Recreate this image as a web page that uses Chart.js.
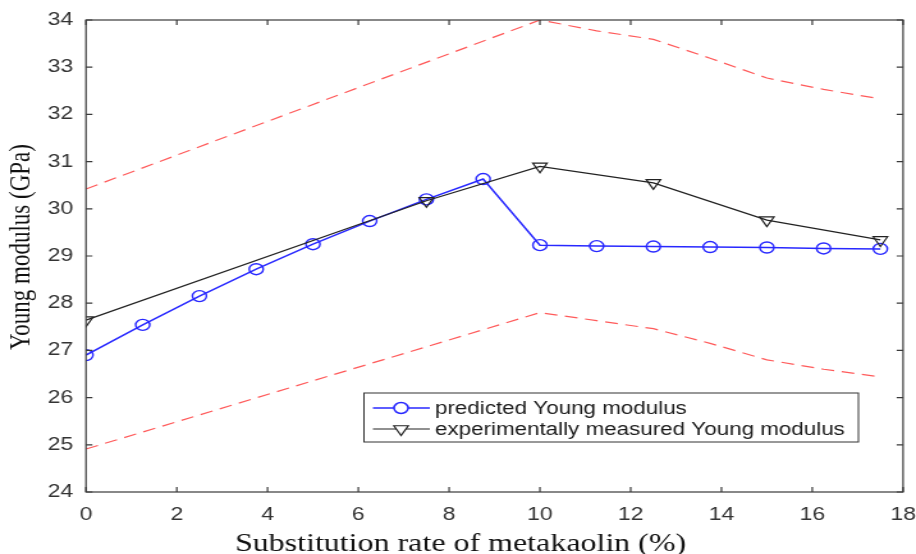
<!DOCTYPE html>
<html lang="en">
<head>
<meta charset="UTF-8">
<title>Young modulus vs metakaolin</title>
<style>
    body {
        margin: 0;
        background: #fff;
        overflow: hidden;
    }

    /* the source figure is stretched sideways, so draw narrow and widen */
    .stretch {
        width: 716px;
        height: 554px;
        transform: scaleX(1.2793);
        transform-origin: 0 0;
    }
</style>
</head>
<body>
<div class="stretch"><canvas id="myCanvas" width="716" height="554"></canvas></div>
<script src="https://cdn.jsdelivr.net/npm/chart.js@4.4.0/dist/chart.umd.min.js"></script>
<script>
// substitution rate (%) and Young modulus (GPa)
const predX = [0, 1.25, 2.5, 3.75, 5, 6.25, 7.5, 8.75, 10, 11.25, 12.5, 13.75, 15, 16.25, 17.5];
const predY = [26.9, 27.54, 28.15, 28.72, 29.25, 29.74, 30.2, 30.63, 29.23, 29.21, 29.2, 29.19, 29.18, 29.16, 29.15];

const expX = [0, 7.5, 10, 12.5, 15, 17.5];
const expY = [27.64, 30.17, 30.9, 30.55, 29.76, 29.34];

const boundX = [0, 10, 11.25, 12.5, 13.75, 15, 16.25, 17.5];
const upperY = [30.42, 34.0, 33.77, 33.59, 33.19, 32.77, 32.53, 32.33];
const lowerY = [24.91, 27.8, 27.63, 27.46, 27.15, 26.8, 26.6, 26.44];

const xTicks = [0, 2, 4, 6, 8, 10, 12, 14, 16, 18];
const yTicks = [24, 25, 26, 27, 28, 29, 30, 31, 32, 33, 34];

const xTitle = 'Substitution rate of metakaolin (%)';
const yTitle = 'Young modulus (GPa)';
const predLabel = 'predicted Young modulus';
const expLabel = 'experimentally measured Young modulus';

const toPoints = (xs, ys) => xs.map((x, i) => ({ x: x, y: ys[i] }));

// frame, inward ticks, axis titles and the boxed legend
const matlabLook = {
    id: 'matlabLook',
    afterDraw(chart) {
        const ctx = chart.ctx;
        const area = chart.chartArea;
        const xs = chart.scales.x;
        const ys = chart.scales.y;

        ctx.save();
        ctx.strokeStyle = '#3a3a3a';
        ctx.lineWidth = 1.2;
        ctx.strokeRect(area.left, area.top, area.right - area.left, area.bottom - area.top);

        ctx.beginPath();
        xTicks.forEach(v => {
            const px = xs.getPixelForValue(v);
            ctx.moveTo(px, area.bottom);
            ctx.lineTo(px, area.bottom - 5);
            ctx.moveTo(px, area.top);
            ctx.lineTo(px, area.top + 5);
        });
        yTicks.forEach(v => {
            const py = ys.getPixelForValue(v);
            ctx.moveTo(area.left, py);
            ctx.lineTo(area.left + 5, py);
            ctx.moveTo(area.right, py);
            ctx.lineTo(area.right - 5, py);
        });
        ctx.stroke();

        // axis titles
        ctx.fillStyle = '#111';
        ctx.font = '25px "Liberation Serif"';
        ctx.textAlign = 'center';
        ctx.textBaseline = 'alphabetic';
        ctx.fillText(xTitle, 360, 551);

        ctx.save();
        ctx.translate(23, 247);
        ctx.rotate(-Math.PI / 2);
        ctx.font = '23px "Liberation Serif"';
        ctx.fillText(yTitle, 0, 0);
        ctx.restore();

        // legend
        const box = { left: 284.5, top: 393, right: 671, bottom: 442 };
        ctx.fillStyle = '#fff';
        ctx.fillRect(box.left, box.top, box.right - box.left, box.bottom - box.top);
        ctx.strokeStyle = '#333';
        ctx.lineWidth = 1;
        ctx.strokeRect(box.left, box.top, box.right - box.left, box.bottom - box.top);

        const rows = chart.data.datasets.filter(d => d.legendRow !== undefined)
            .sort((a, b) => a.legendRow - b.legendRow);
        rows.forEach((d, i) => {
            const y = 408 + i * 21;
            ctx.strokeStyle = d.borderColor;
            ctx.lineWidth = d.borderWidth;
            ctx.setLineDash([]);
            ctx.beginPath();
            ctx.moveTo(291.5, y);
            ctx.lineTo(336, y);
            ctx.stroke();
            ctx.fillStyle = '#fff';
            Chart.helpers.drawPoint(ctx, {
                pointStyle: d.pointStyle,
                radius: d.pointRadius,
                rotation: d.pointRotation || 0,
                borderWidth: d.pointBorderWidth
            }, 313.5, y);
            ctx.fillStyle = '#1a1a1a';
            ctx.font = '17.5px "Liberation Sans"';
            ctx.textAlign = 'left';
            ctx.textBaseline = 'middle';
            ctx.fillText(d.label, 340, y + 1);
        });
        ctx.restore();
    }
};

new Chart(document.getElementById('myCanvas'), {
    type: 'scatter',
    data: {
        datasets: [{
            label: expLabel,
            legendRow: 1,
            data: toPoints(expX, expY),
            showLine: true,
            borderColor: '#222',
            borderWidth: 1.2,
            pointStyle: 'triangle',
            pointRotation: 180,
            pointRadius: 6.5,
            pointBorderWidth: 1.2,
            pointBorderColor: '#222',
            pointBackgroundColor: 'rgba(0,0,0,0)',
            order: 0
        }, {
            label: predLabel,
            legendRow: 0,
            data: toPoints(predX, predY),
            showLine: true,
            borderColor: 'rgb(40,40,255)',
            borderWidth: 1.5,
            pointStyle: 'circle',
            pointRadius: 5.5,
            pointBorderWidth: 1.4,
            pointBorderColor: 'rgb(40,40,255)',
            pointBackgroundColor: 'rgba(0,0,0,0)',
            order: 1
        }, {
            label: 'upper bound',
            data: toPoints(boundX, upperY),
            showLine: true,
            borderColor: 'rgb(255,90,90)',
            borderWidth: 1.2,
            borderDash: [10, 6],
            pointRadius: 0,
            order: 2
        }, {
            label: 'lower bound',
            data: toPoints(boundX, lowerY),
            showLine: true,
            borderColor: 'rgb(255,90,90)',
            borderWidth: 1.2,
            borderDash: [10, 6],
            pointRadius: 0,
            order: 2
        }]
    },
    options: {
        responsive: false,
        animation: false,
        layout: { padding: { top: 20, right: 10.1, left: 0, bottom: 0 } },
        plugins: {
            legend: { display: false },
            tooltip: { enabled: false }
        },
        scales: {
            x: {
                type: 'linear',
                min: 0,
                max: 18,
                afterBuildTicks: s => { s.ticks = xTicks.map(v => ({ value: v })); },
                afterFit: s => {
                    s.height = 62;
                    s.paddingLeft = 0;
                    s.paddingRight = 0;
                },
                grid: { display: false, drawTicks: false },
                border: { display: false },
                ticks: {
                    color: '#333',
                    font: { family: 'Liberation Sans', size: 18 },
                    padding: 12,
                    maxRotation: 0
                }
            },
            y: {
                min: 24,
                max: 34,
                afterBuildTicks: s => { s.ticks = yTicks.map(v => ({ value: v })); },
                afterFit: s => {
                    s.width = 67.2;
                    s.paddingTop = 0;
                    s.paddingBottom = 0;
                },
                grid: { display: false, drawTicks: false },
                border: { display: false },
                ticks: {
                    color: '#333',
                    font: { family: 'Liberation Sans', size: 18 },
                    padding: 10
                }
            }
        }
    },
    plugins: [matlabLook]
});
</script>
</body>
</html>
